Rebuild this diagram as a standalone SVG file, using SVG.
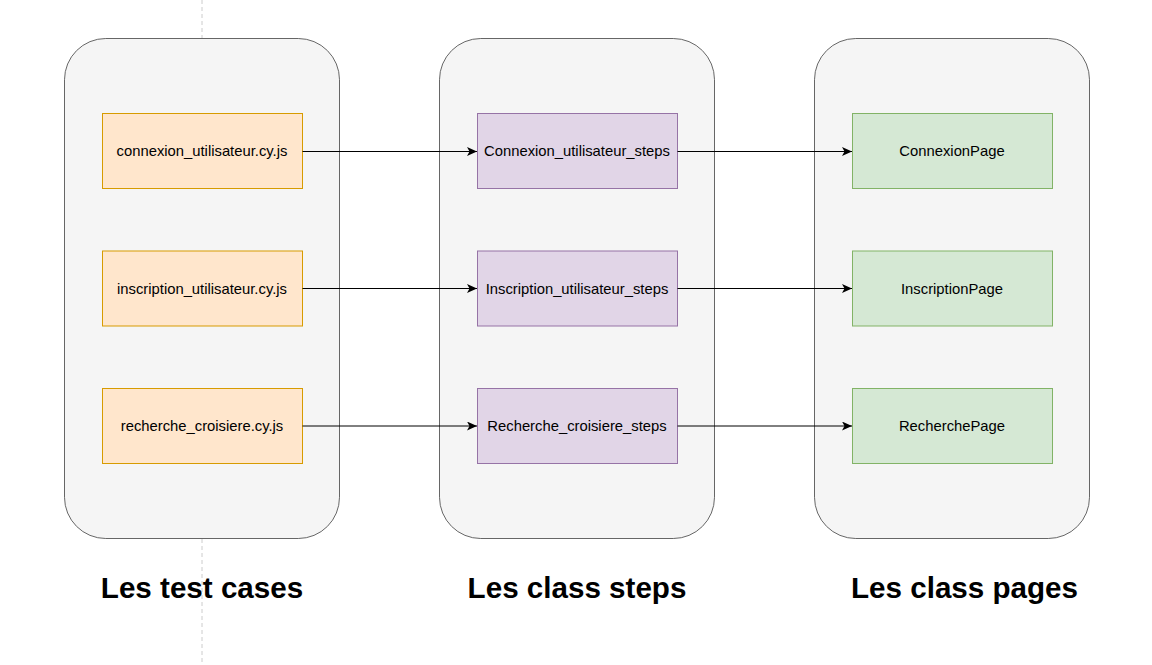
<svg xmlns="http://www.w3.org/2000/svg" width="1152" height="665" viewBox="0 0 1152 665">
<style>
.cont{fill:#f5f5f5;stroke:#666666;stroke-width:1}
.o{fill:#ffe6cc;stroke:#d79b00}
.p{fill:#e1d5e7;stroke:#9673a6}
.g{fill:#d5e8d4;stroke:#82b366}
.lbl{font-family:"Liberation Sans",Arial,sans-serif;font-size:14.8px;fill:#000;text-anchor:middle}
.title{font-family:"Liberation Sans",Arial,sans-serif;font-size:29.6px;font-weight:bold;fill:#000;text-anchor:middle}
.edge{stroke:#000;stroke-width:1;fill:none;marker-end:url(#arr)}
</style>
<defs>
<marker id="arr" markerUnits="userSpaceOnUse" markerWidth="11" markerHeight="10" refX="10" refY="4.5" orient="auto" viewBox="0 0 11 10">
<path d="M0,0 L10,4.5 L0,9 L2.5,4.5 Z" fill="#000"/>
</marker>
</defs>
<rect width="1152" height="665" fill="#ffffff"/>
<line x1="202" y1="0" x2="202" y2="665" stroke="#cccccc" stroke-width="1" stroke-dasharray="4 3"/>
<g id="container-tests"><rect class="cont" x="64.5" y="38.5" width="275" height="500" rx="41.25"/></g>
<g id="container-steps"><rect class="cont" x="439.5" y="38.5" width="275" height="500" rx="41.25"/></g>
<g id="container-pages"><rect class="cont" x="814.5" y="38.5" width="275" height="500" rx="41.25"/></g>

<g id="t1"><rect class="o" x="102.5" y="113.5" width="200" height="75"/><text class="lbl" x="202" y="156">connexion_utilisateur.cy.js</text></g>
<g id="t2"><rect class="o" x="102.5" y="251" width="200" height="75"/><text class="lbl" x="202" y="293.5">inscription_utilisateur.cy.js</text></g>
<g id="t3"><rect class="o" x="102.5" y="388.5" width="200" height="75"/><text class="lbl" x="202" y="431">recherche_croisiere.cy.js</text></g>

<g id="s1"><rect class="p" x="477.5" y="113.5" width="200" height="75"/><text class="lbl" x="577" y="156">Connexion_utilisateur_steps</text></g>
<g id="s2"><rect class="p" x="477.5" y="251" width="200" height="75"/><text class="lbl" x="577" y="293.5">Inscription_utilisateur_steps</text></g>
<g id="s3"><rect class="p" x="477.5" y="388.5" width="200" height="75"/><text class="lbl" x="577" y="431">Recherche_croisiere_steps</text></g>

<g id="p1"><rect class="g" x="852.5" y="113.5" width="200" height="75"/><text class="lbl" x="952" y="156">ConnexionPage</text></g>
<g id="p2"><rect class="g" x="852.5" y="251" width="200" height="75"/><text class="lbl" x="952" y="293.5">InscriptionPage</text></g>
<g id="p3"><rect class="g" x="852.5" y="388.5" width="200" height="75"/><text class="lbl" x="952" y="431">RecherchePage</text></g>

<g id="connectors">
<line class="edge" x1="302.5" y1="151.5" x2="477" y2="151.5"/>
<line class="edge" x1="302.5" y1="288.5" x2="477" y2="288.5"/>
<line class="edge" x1="302.5" y1="426" x2="477" y2="426"/>
<line class="edge" x1="677.5" y1="151.5" x2="852" y2="151.5"/>
<line class="edge" x1="677.5" y1="288.5" x2="852" y2="288.5"/>
<line class="edge" x1="677.5" y1="426" x2="852" y2="426"/>
</g>

<g id="titles">
<text class="title" x="202" y="597.5">Les test cases</text>
<text class="title" x="577" y="597.5">Les class steps</text>
<text class="title" x="964.5" y="597.5">Les class pages</text>
</g>
</svg>
